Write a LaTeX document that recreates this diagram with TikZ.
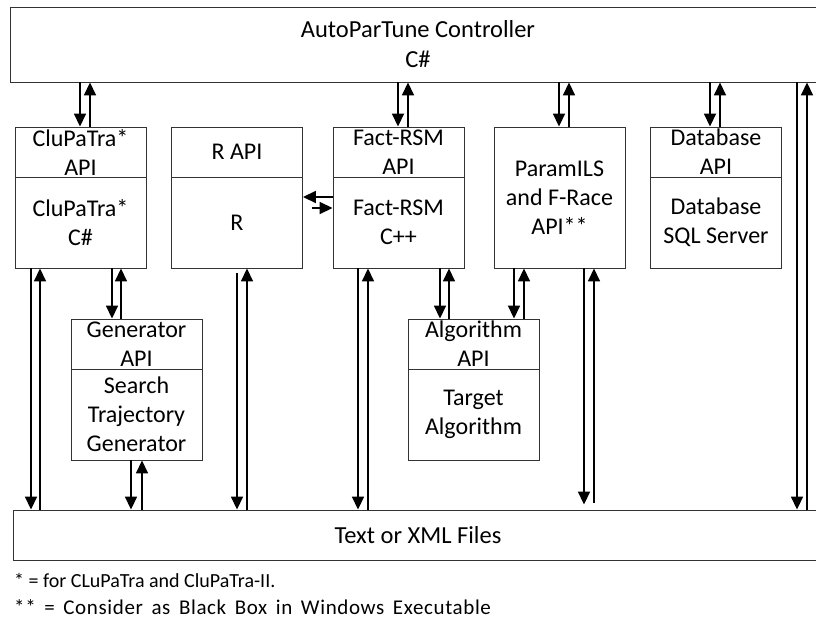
\documentclass[tikz,border=0pt]{standalone}
\usepackage{fontspec}
\setmainfont{Carlito}
\newfontfamily\notefont[LetterSpace=3,WordSpace=1.6]{Carlito}
\usetikzlibrary{arrows.meta}
\begin{document}
\begin{tikzpicture}[x=1pt,y=-1pt,
  box/.style={draw=black!80, line width=0.9pt, inner sep=0pt, minimum width=131pt},
  lbl/.style={align=center, font=\fontsize{24}{29}\selectfont, inner sep=0pt, text=black},
  big/.style={lbl, font=\fontsize{24.5}{30}\selectfont},
  foot/.style={anchor=west, inner sep=0pt, font=\fontsize{20}{22}\selectfont},
  arr/.style={line width=1.7pt, -{Triangle[width=12pt,length=13pt]}},
]
\clip (0,0) rectangle (816,630);

% controller and shared file store (both run past the right edge)
\node[box, minimum width=816pt, minimum height=75pt,
      label={[big]center:{AutoParTune Controller\\C\#}}] (ctrl) at (418,44.5) {};
\node[box, minimum width=810pt, minimum height=50pt,
      label={[big]center:{Text or XML Files}}] (files) at (418,535) {};

% component row
\node[box, minimum height=50pt, label={[lbl]center:{CluPaTra*\\API}}] (cluA) at (80.5,152) {};
\node[box, minimum height=91pt, label={[lbl]center:{CluPaTra*\\C\#}}] (cluB) at (80.5,222.5) {};
\node[box, minimum height=50pt, label={[lbl]center:{R API}}] (rA) at (237,152) {};
\node[box, minimum height=91pt, label={[lbl]center:{R}}] (rB) at (237,222.5) {};
\node[box, minimum height=50pt, label={[lbl]center:{Fact-RSM\\API}}] (fA) at (398.5,152) {};
\node[box, minimum height=91pt, label={[lbl]center:{Fact-RSM\\C++}}] (fB) at (398.5,222.5) {};
\node[box, minimum height=141pt, label={[lbl]center:{ParamILS\\and F-Race\\API**}}] (pil) at (559.5,197.5) {};
\node[box, minimum height=50pt, label={[lbl]center:{Database\\API}}] (dA) at (716,152) {};
\node[box, minimum height=91pt, label={[lbl]center:{Database\\SQL Server}}] (dB) at (716,222.5) {};

% second row
\node[box, minimum height=50pt, label={[lbl]center:{Generator\\API}}] (gA) at (136.5,344) {};
\node[box, minimum height=91pt, label={[lbl]center:{Search\\Trajectory\\Generator}}] (gB) at (136.5,414.5) {};
\node[box, minimum height=50pt, label={[lbl]center:{Algorithm\\API}}] (aA) at (473.5,344) {};
\node[box, minimum height=91pt, label={[lbl]center:{Target\\Algorithm}}] (aB) at (473.5,414.5) {};

% notes
\node[foot] (fn1) at (14,580) {* = for CLuPaTra and CluPaTra-II.};
\node[foot, font=\fontsize{21}{22}\notefont] (fn2) at (14,607) {** = Consider as Black Box in Windows Executable};

% paired vertical links: down arrow at \d, up arrow at \u
\foreach \a/\b/\d/\u in {
    ctrl.south/cluA.north/80/90,
    ctrl.south/fA.north/398/408,
    ctrl.south/pil.north/559/569,
    ctrl.south/dA.north/710/720,
    ctrl.south/files.north/797/807,
    cluB.south/gA.north/112/121,
    cluB.south/files.north/31/40,
    gB.south/files.north/131/142,
    fB.south/files.north/358/368,
    fB.south/aA.north/440/449,
    pil.south/aA.north/514/524}{
  \draw[arr] (\a -| \d,0) -- (\b -| \d,0);
  \draw[arr] (\b -| \u,0) -- (\a -| \u,0);
}
\draw[arr, shorten <=5pt] (rB.south -| 237,0) -- (files.north -| 237,0);
\draw[arr] (files.north -| 247,0) -- (rB.south -| 247,0);
\draw[arr, shorten >=5pt] (pil.south -| 584,0) -- (files.north -| 584,0);
\draw[arr, shorten <=7pt] (files.north -| 594,0) -- (pil.south -| 594,0);

% R <-> Fact-RSM
\draw[arr] (fB.west |- 0,197) -- (rB.east |- 0,197);
\draw[arr, shorten <=9pt] (rB.east |- 0,208) -- (fB.west |- 0,208);
\end{tikzpicture}
\end{document}
